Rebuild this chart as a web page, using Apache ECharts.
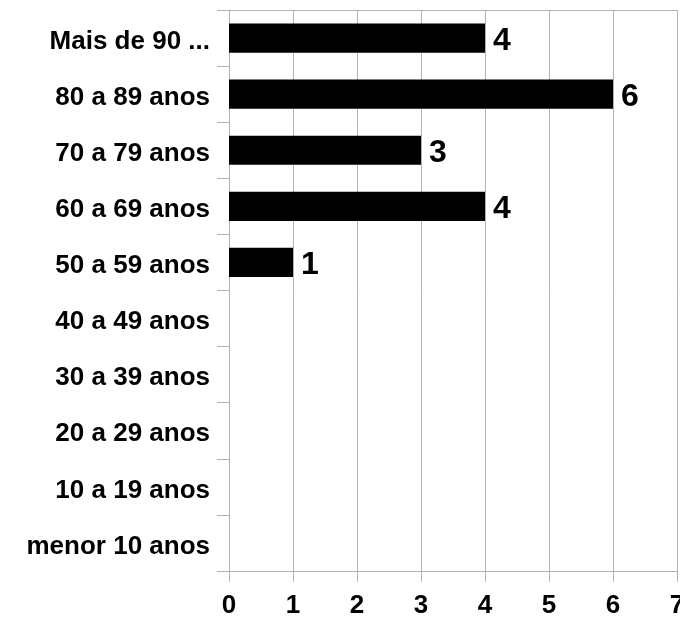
<!DOCTYPE html>
<html>
<head>
<meta charset="utf-8">
<script src="https://cdn.jsdelivr.net/npm/echarts@6/dist/echarts.min.js"></script>
<style>
  html, body { margin: 0; padding: 0; background: #fff; }
  #chart { width: 680px; height: 621px; }
</style>
</head>
<body>
<div id="chart"></div>
<script>
// faixas etárias, de baixo para cima
var categories = ['menor 10 anos', '10 a 19 anos', '20 a 29 anos', '30 a 39 anos', '40 a 49 anos',
    '50 a 59 anos', '60 a 69 anos', '70 a 79 anos', '80 a 89 anos', 'Mais de 90 ...'];
var values = [0, 0, 0, 0, 0, 1, 4, 3, 6, 4];
var xTicks = [0, 1, 2, 3, 4, 5, 6, 7];

var chart = echarts.init(document.getElementById('chart'));
var gridColor = '#b3b3b3';
var font = '"Liberation Sans", Arial, sans-serif';

var option = {
    animation: false,
    grid: { left: 229, right: 3, top: 10, bottom: 50, containLabel: false, outerBoundsMode: 'none' },
    xAxis: [{
        type: 'value',
        min: xTicks[0],
        max: xTicks[xTicks.length - 1],
        interval: 1,
        axisLine: { show: true, lineStyle: { color: gridColor, width: 1 } },
        axisTick: { show: true, length: 11, lineStyle: { color: gridColor } },
        splitLine: { show: true, lineStyle: { color: gridColor, width: 1 } },
        axisLabel: {
            margin: 22, color: '#000', fontFamily: font, fontWeight: 'bold', fontSize: 26,
            showMaxLabel: true
        }
    }, {
        // linha superior da área do gráfico
        type: 'value', position: 'top', min: 0, max: 7,
        axisLine: { show: true, lineStyle: { color: gridColor, width: 1 } },
        axisTick: { show: false }, axisLabel: { show: false }, splitLine: { show: false }
    }],
    yAxis: {
        type: 'category',
        data: categories,
        axisLine: { show: true, lineStyle: { color: gridColor, width: 1 } },
        axisTick: { show: true, length: 12, lineStyle: { color: gridColor } },
        axisLabel: {
            margin: 19,
            formatter: '{t|{value}}',
            rich: {
                t: { color: '#000', fontFamily: font, fontWeight: 'bold', fontSize: 26, padding: [7, 0, 0, 0] }
            }
        }
    },
    series: [{
        type: 'bar',
        data: values,
        barCategoryGap: '48%',
        itemStyle: { color: '#000' },
        label: {
            show: true,
            position: 'right',
            distance: 8,
            offset: [0, 3],
            color: '#000',
            fontFamily: font,
            fontWeight: 'bold',
            fontSize: 32,
            formatter: function (p) { return p.value > 0 ? p.value : ''; }
        }
    }]
};
chart.setOption(option);
</script>
</body>
</html>
